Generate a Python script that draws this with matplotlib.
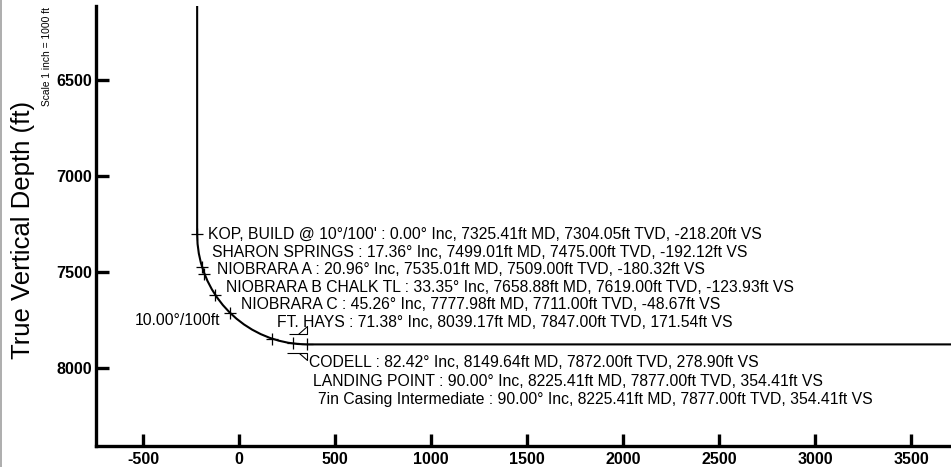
import matplotlib
matplotlib.use("Agg")
import matplotlib.pyplot as plt
from matplotlib.path import Path
from matplotlib.lines import Line2D

plt.rcParams['font.family'] = ['Liberation Sans', 'DejaVu Sans']

# ---- data ----
# well path (vertical section ft, true vertical depth ft)
path_vs = [-218.20, -218.20, -216.02, -209.50, -198.68, -183.65, -164.52, -141.44,
           -114.58, -84.15, -50.38, -13.53, 26.12, 68.28, 112.62, 158.80, 206.47,
           255.27, 304.82, 354.41, 3720.0]
path_tvd = [6000.0, 7304.05, 7353.99, 7403.54, 7452.34, 7500.01, 7546.19, 7590.53,
            7632.69, 7672.34, 7709.19, 7742.96, 7773.39, 7800.25, 7823.33, 7842.45,
            7857.49, 7868.31, 7874.83, 7877.00, 7877.00]

# formation / target points
pt_names = ["KOP, BUILD @ 10°/100'", "SHARON SPRINGS", "NIOBRARA A", "NIOBRARA B CHALK TL",
            "NIOBRARA C", "FT. HAYS", "CODELL", "LANDING POINT", "7in Casing Intermediate"]
pt_inc = [0.00, 17.36, 20.96, 33.35, 45.26, 71.38, 82.42, 90.00, 90.00]
pt_md = [7325.41, 7499.01, 7535.01, 7658.88, 7777.98, 8039.17, 8149.64, 8225.41, 8225.41]
pt_tvd = [7304.05, 7475.00, 7509.00, 7619.00, 7711.00, 7847.00, 7872.00, 7877.00, 7877.00]
pt_vs = [-218.20, -192.12, -180.32, -123.93, -48.67, 171.54, 278.90, 354.41, 354.41]

build_rate_label = "10.00°/100ft"
x_ticks = [-500, 0, 500, 1000, 1500, 2000, 2500, 3000, 3500]
y_ticks = [6500, 7000, 7500, 8000]

# ---- figure ----
fig = plt.figure(figsize=(9.51, 4.67), dpi=100)
ax = fig.add_axes([96/951, 21/467, 855/951, 440/467])

ax.plot(path_vs, path_tvd, color='black', lw=1.5, solid_capstyle='butt', zorder=3)

# formation markers (all but the casing point)
ax.plot(pt_vs[:-1], pt_tvd[:-1], ls='none', marker='+', ms=9, mew=0.9,
        color='black', zorder=4)

# casing shoe symbol
verts = [(-18, 10), (0, 10), (0, 18), (-9, 10),
         (-20, -9), (0, -9), (0, -16), (-8, -9)]
codes = [Path.MOVETO, Path.LINETO, Path.LINETO, Path.LINETO,
         Path.MOVETO, Path.LINETO, Path.LINETO, Path.LINETO]
shoe = Path(verts, codes)
ax.plot([pt_vs[-1]], [pt_tvd[-1]], ls='none', marker=shoe, ms=28.8, mew=0.8,
        mfc='none', mec='black', zorder=4)

labels = [f"{n} : {i:.2f}° Inc, {m:.2f}ft MD, {t:.2f}ft TVD, {v:.2f}ft VS"
          for n, i, m, t, v in zip(pt_names, pt_inc, pt_md, pt_tvd, pt_vs)]

fs = 11.3
# upper stack of labels, starting at KOP depth
upper_dx = [8, 7, 9, 8, 8, 3.6]
for k in range(6):
    ax.annotate(labels[k], xy=(pt_vs[k], pt_tvd[0]), xytext=(upper_dx[k], -k * 12.7),
                textcoords='offset points', ha='left', va='center', fontsize=fs)
# lower stack, below the lateral
lower_dx = [12, 4.3, 8]
for j, k in enumerate(range(6, 9)):
    ax.annotate(labels[k], xy=(pt_vs[k], pt_tvd[-1]), xytext=(lower_dx[j], -13.2 - j * 13.4),
                textcoords='offset points', ha='left', va='center', fontsize=fs)

ax.text(-99, 7750, build_rate_label, ha='right', va='center', fontsize=fs)

ax.set_xlim(-745, 3708)
ax.set_ylim(8406, 6115)
ax.set_xticks(x_ticks)
ax.set_yticks(y_ticks)
ax.set_xticklabels([str(v) for v in x_ticks])
ax.set_yticklabels([str(v) for v in y_ticks])
for lab in ax.get_xticklabels() + ax.get_yticklabels():
    lab.set_fontweight('bold')
    lab.set_fontsize(11.6)
ax.tick_params(axis='both', direction='in', length=9.5, width=2.4, pad=3)
ax.tick_params(axis='x', length=8.8, pad=4)
for s in ['top', 'right']:
    ax.spines[s].set_visible(False)
for s in ['left', 'bottom']:
    ax.spines[s].set_linewidth(2.4)

fig.text(23/951, 1 - 230/467, "True Vertical Depth (ft)", rotation=90,
         ha='center', va='center', fontsize=18.5)
fig.text(47/951, 1 - 56/467, "Scale 1 inch = 1000 ft", rotation=90,
         ha='center', va='center', fontsize=7.4)

fig.add_artist(Line2D([0.5/951, 0.5/951], [0, 1], color='#a0a0a0', lw=1.2,
                      transform=fig.transFigure))

fig.savefig("out.png", dpi=100)
